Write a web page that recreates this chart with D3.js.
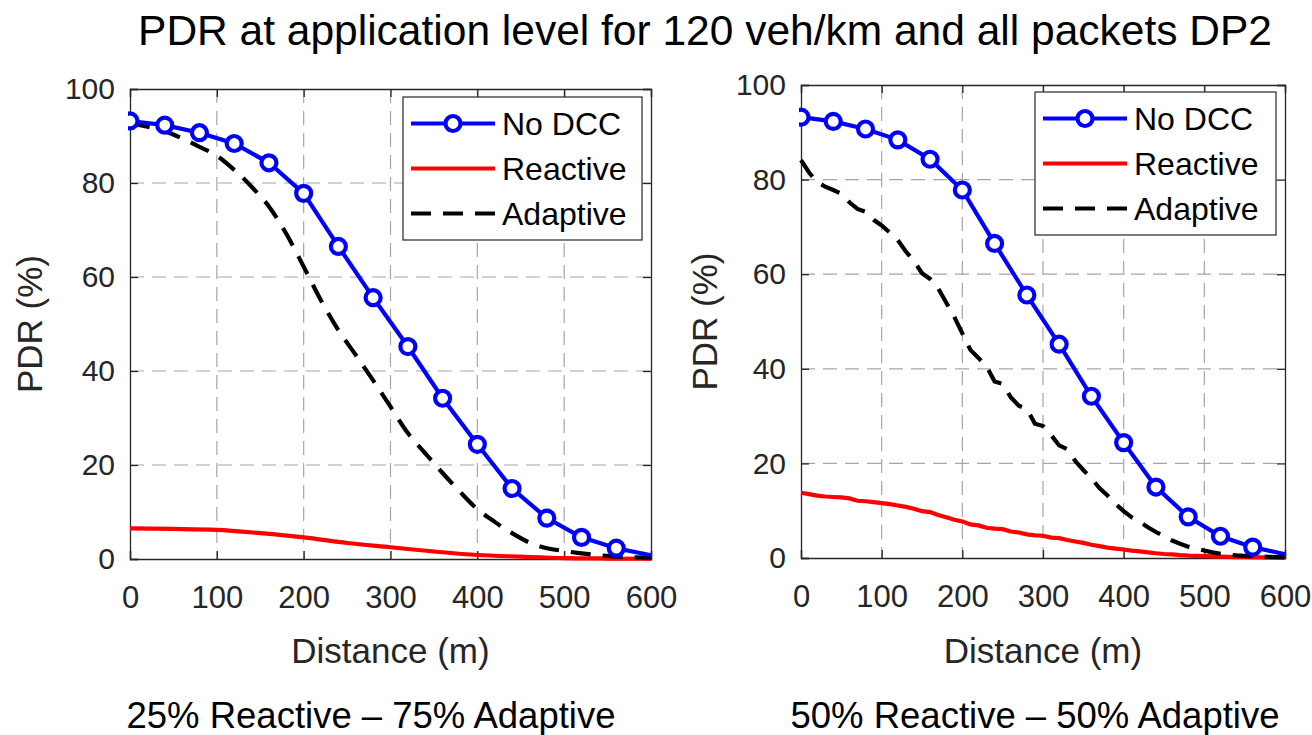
<!DOCTYPE html>
<html>
<head>
<meta charset="utf-8">
<script src="https://cdn.jsdelivr.net/npm/d3@7"></script>
<style>
  body { margin: 0; background: #fff; }
  svg { font-family: 'Liberation Sans', Arial, Helvetica, sans-serif; }
  .tick text { fill: #262626; }
</style>
</head>
<body>
<svg width="1312" height="735"></svg>
<script>
// Data

const titleText = 'PDR at application level for 120 veh/km and all packets DP2';
const captions = ['25% Reactive \u2013 75% Adaptive', '50% Reactive \u2013 50% Adaptive'];
const xTicks = [0, 100, 200, 300, 400, 500, 600];
const yTicks = [0, 20, 40, 60, 80, 100];
const legendNames = ['No DCC', 'Reactive', 'Adaptive'];

// No DCC (same curve in both panels), every 40 m
const noDccX = [0, 40, 80, 120, 160, 200, 240, 280, 320, 360, 400, 440, 480, 520, 560, 600];
const noDccY = [93.2, 92.3, 90.7, 88.4, 84.3, 77.8, 66.5, 55.6, 45.2, 34.2, 24.4, 15.0, 8.7, 4.6, 2.3, 0.8];

// left panel: 25% reactive / 75% adaptive
const leftAdaptX = [0, 20, 40, 60, 80, 100, 120, 140, 160, 180, 200, 220, 240, 260, 280, 300,
  320, 340, 360, 380, 400, 420, 440, 460, 480, 500, 520, 540, 560, 580, 600];
const leftAdaptY = [92.7, 92.0, 91.0, 89.5, 87.7, 85.8, 82.8, 79.2, 75.0, 69.2, 62.2, 55.0, 48.7, 43.4, 38.0, 32.4,
  26.8, 22.5, 18.3, 14.3, 10.6, 7.9, 5.5, 3.5, 2.3, 1.7, 1.2, 0.8, 0.5, 0.35, 0.3];
const leftReactX = [0, 50, 100, 150, 200, 250, 300, 350, 400, 450, 500, 550, 600];
const leftReactY = [6.5, 6.4, 6.2, 5.5, 4.6, 3.4, 2.5, 1.6, 0.85, 0.5, 0.2, 0.1, 0.05];

// right panel: 50% reactive / 50% adaptive (10 m steps)
const rightX = d3.range(0, 601, 10);
const rightAdaptY = [84.1, 81.5, 79.5, 78.5, 77.8, 77.0, 75.2, 73.8, 73.2, 71.5, 70.3, 68.8, 67.2, 64.8, 62.8, 60.2,
  59.0, 57.0, 54.0, 51.0, 47.5, 44.0, 42.3, 40.5, 37.3, 36.8, 34.0, 32.2, 31.5, 28.4, 27.9, 26.0,
  23.8, 23.0, 20.5, 18.6, 16.8, 14.8, 13.2, 11.4, 9.9, 8.6, 7.6, 6.5, 5.5, 4.6, 3.7, 3.0,
  2.4, 2.0, 1.6, 1.2, 0.9, 0.7, 0.55, 0.45, 0.35, 0.3, 0.25, 0.2, 0.2];
const rightReactY = [13.8, 13.5, 13.2, 13.0, 12.9, 12.8, 12.6, 12.1, 12.0, 11.8, 11.6, 11.4, 11.1, 10.8, 10.4, 9.9,
  9.7, 9.1, 8.6, 8.1, 7.7, 7.1, 6.9, 6.4, 6.2, 6.1, 5.6, 5.4, 5.0, 4.8, 4.7, 4.3,
  4.2, 3.8, 3.5, 3.2, 2.8, 2.5, 2.2, 2.0, 1.8, 1.55, 1.4, 1.2, 1.0, 0.85, 0.75, 0.6,
  0.5, 0.45, 0.4, 0.35, 0.3, 0.25, 0.2, 0.18, 0.15, 0.12, 0.1, 0.1, 0.1];

const zip = (xs, ys) => xs.map((x, i) => ({ x: x, y: ys[i] }));

const panels = [
  {
    box: { left: 130, right: 651, top: 89, bottom: 559 },
    legend: { x: 403, y: 97, w: 239, h: 143 },
    ylabelX: -88,
    captionX: 371,
    caption: captions[0],
    noDcc: zip(noDccX, noDccY),
    reactive: zip(leftReactX, leftReactY),
    adaptive: zip(leftAdaptX, leftAdaptY),
    curve: d3.curveMonotoneX
  },
  {
    box: { left: 801, right: 1285, top: 85, bottom: 558 },
    legend: { x: 1035, y: 92, w: 241, h: 143 },
    ylabelX: -84,
    captionX: 1035,
    caption: captions[1],
    noDcc: zip(noDccX, noDccY),
    reactive: zip(rightX, rightReactY),
    adaptive: zip(rightX, rightAdaptY),
    curve: d3.curveLinear
  }
];

const svg = d3.select('svg');
const axisColor = '#262626';
const blue = '#0000ff';
const red = '#ff0000';
const lw = 4.2;
const dash = '20,12';

svg.append('text')
  .attr('x', 705)
  .attr('y', 45)
  .attr('text-anchor', 'middle')
  .attr('font-size', 42.5)
  .attr('fill', '#000')
  .text(titleText);

panels.forEach((p, idx) => {
  const b = p.box;
  const w = b.right - b.left;
  const h = b.bottom - b.top;

  const xScale = d3.scaleLinear().domain([0, 600]).range([0, w]);
  const yScale = d3.scaleLinear().domain([0, 100]).range([h, 0]);

  const g = svg.append('g')
    .attr('transform', `translate(${b.left},${b.top})`);

  // grid
  g.append('g').selectAll('line').data(xTicks.slice(1, -1))
    .enter().append('line')
    .attr('x1', d => xScale(d)).attr('x2', d => xScale(d))
    .attr('y1', 0).attr('y2', h)
    .attr('stroke', '#a6a6a6').attr('stroke-width', 1.2)
    .attr('stroke-dasharray', '14,8');
  g.append('g').selectAll('line').data(yTicks.slice(1, -1))
    .enter().append('line')
    .attr('y1', d => yScale(d)).attr('y2', d => yScale(d))
    .attr('x1', 0).attr('x2', w)
    .attr('stroke', '#a6a6a6').attr('stroke-width', 1.2)
    .attr('stroke-dasharray', '14,8');

  // axes with inward ticks on all four sides
  const xAxis = d3.axisBottom(xScale).tickValues(xTicks).tickSize(-8).tickPadding(27);
  const yAxis = d3.axisLeft(yScale).tickValues(yTicks).tickSize(-8).tickPadding(15);

  const xAxisG = g.append('g').attr('transform', `translate(0,${h})`).call(xAxis);
  const yAxisG = g.append('g').call(yAxis);
  g.append('g').call(d3.axisTop(xScale).tickValues(xTicks).tickSize(-8).tickFormat(''));
  g.append('g').attr('transform', `translate(${w},0)`)
    .call(d3.axisRight(yScale).tickValues(yTicks).tickSize(-8).tickFormat(''));

  g.selectAll('.domain').attr('stroke', axisColor).attr('stroke-width', 1.3);
  g.selectAll('.tick line').attr('stroke', axisColor).attr('stroke-width', 1.3);
  xAxisG.selectAll('.tick text').attr('font-size', 31).attr('font-family', 'Liberation Sans, Arial, sans-serif');
  yAxisG.selectAll('.tick text').attr('font-size', 30).attr('font-family', 'Liberation Sans, Arial, sans-serif');

  // labels
  g.append('text')
    .attr('x', w / 2).attr('y', 663 - b.top)
    .attr('text-anchor', 'middle')
    .attr('font-size', 35).attr('fill', axisColor)
    .text('Distance (m)');
  g.append('text')
    .attr('transform', `translate(${p.ylabelX},${h / 2}) rotate(-90)`)
    .attr('text-anchor', 'middle')
    .attr('font-size', 35).attr('fill', axisColor)
    .text('PDR (%)');
  svg.append('text')
    .attr('x', p.captionX).attr('y', 728)
    .attr('text-anchor', 'middle')
    .attr('font-size', 36.5).attr('fill', '#000')
    .text(p.caption);

  // data
  const clipId = 'clip' + idx;
  g.append('clipPath').attr('id', clipId)
    .append('rect').attr('x', -2).attr('y', -2).attr('width', w + 4).attr('height', h + 4);
  const plot = g.append('g').attr('clip-path', `url(#${clipId})`);

  const line = d3.line().x(d => xScale(d.x)).y(d => yScale(d.y));

  plot.append('path').datum(p.reactive)
    .attr('d', line.curve(p.curve))
    .attr('fill', 'none').attr('stroke', red).attr('stroke-width', lw);
  plot.append('path').datum(p.adaptive)
    .attr('d', line.curve(p.curve))
    .attr('fill', 'none').attr('stroke', '#000').attr('stroke-width', lw)
    .attr('stroke-dasharray', dash);
  plot.append('path').datum(p.noDcc)
    .attr('d', line.curve(d3.curveLinear))
    .attr('fill', 'none').attr('stroke', blue).attr('stroke-width', lw);
  plot.selectAll('circle').data(p.noDcc.slice(0, -1))
    .enter().append('circle')
    .attr('cx', d => xScale(d.x))
    .attr('cy', d => yScale(d.y))
    .attr('r', 7.5)
    .attr('fill', '#fff').attr('stroke', blue).attr('stroke-width', 4.2);

  // legend
  const L = p.legend;
  const lg = svg.append('g').attr('transform', `translate(${L.x},${L.y})`);
  lg.append('rect')
    .attr('width', L.w).attr('height', L.h)
    .attr('fill', '#fff').attr('stroke', axisColor).attr('stroke-width', 1.2);
  const rowY = [26.5, 71.5, 116.5];
  const styles = [
    { stroke: blue, dash: null, marker: true },
    { stroke: red, dash: null, marker: false },
    { stroke: '#000', dash: dash, marker: false }
  ];
  legendNames.forEach((name, i) => {
    const s = styles[i];
    lg.append('line')
      .attr('x1', 8).attr('x2', 92)
      .attr('y1', rowY[i]).attr('y2', rowY[i])
      .attr('stroke', s.stroke).attr('stroke-width', lw)
      .attr('stroke-dasharray', s.dash);
    if (s.marker) {
      lg.append('circle')
        .attr('cx', 50).attr('cy', rowY[i]).attr('r', 7.5)
        .attr('fill', '#fff').attr('stroke', blue).attr('stroke-width', 4.2);
    }
    lg.append('text')
      .attr('x', 99).attr('y', rowY[i] + 11)
      .attr('font-size', 32).attr('fill', '#000')
      .text(name);
  });
});
</script>
</body>
</html>
